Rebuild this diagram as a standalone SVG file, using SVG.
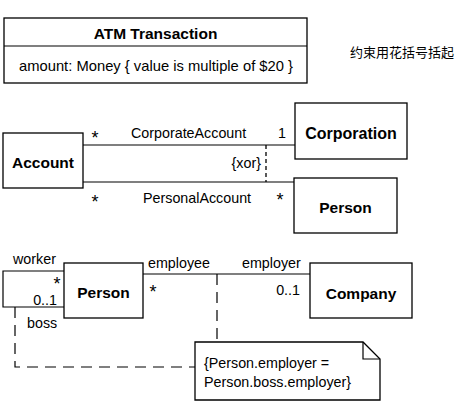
<svg xmlns="http://www.w3.org/2000/svg" width="474" height="407" viewBox="0 0 474 407">
<style>
.box{fill:#fff;stroke:#000;stroke-width:1.3}
.ln{fill:none;stroke:#000;stroke-width:1.2}
.dash{fill:none;stroke:#000;stroke-width:1.2;stroke-dasharray:11 7}
.xor{fill:none;stroke:#000;stroke-width:1.3;stroke-dasharray:4 3}
text{font-family:"Liberation Sans",Arial,sans-serif;font-size:14.3px;fill:#000}
.b{font-weight:bold;font-size:15.5px}
.c{text-anchor:middle}
.e{text-anchor:end}
.s{font-size:18px;text-anchor:middle}
.zh{font-family:"Noto Sans CJK SC",sans-serif;font-size:13px}
</style>
<rect width="474" height="407" fill="#fff"/>
<g id="atm">
<rect class="box" x="4" y="18" width="303" height="65"/>
<line class="ln" x1="4" y1="46" x2="307" y2="46"/>
<text class="b c" x="155.5" y="38.5">ATM Transaction</text>
<text class="c" x="156" y="71" textLength="274" lengthAdjust="spacingAndGlyphs">amount: Money { value is multiple of $20 }</text>
</g>
<text class="zh" x="350" y="57">约束用花括号括起</text>
<g id="connectors">
<line class="ln" x1="83" y1="145" x2="295" y2="145"/>
<line class="ln" x1="83" y1="182" x2="294" y2="182"/>
<line class="xor" x1="266" y1="145" x2="266" y2="182"/>
<polyline class="ln" points="64,271 3,271 3,307 64,307"/>
<line class="ln" x1="143" y1="274" x2="310" y2="274"/>
<line class="dash" x1="217" y1="274" x2="217" y2="342"/>
<polyline class="dash" points="15,307 15,367 195,367"/>
</g>
<g id="labels">
<text class="s" x="95" y="144">*</text>
<text x="131" y="138">CorporateAccount</text>
<text x="278" y="138">1</text>
<text class="e" x="261" y="168">{xor}</text>
<text class="s" x="95" y="208">*</text>
<text x="143" y="203">PersonalAccount</text>
<text class="s" x="280" y="206">*</text>
<text x="13" y="264">worker</text>
<text class="s" x="57" y="290">*</text>
<text class="e" x="57" y="305">0..1</text>
<text x="27" y="328">boss</text>
<text x="148" y="268">employee</text>
<text x="242" y="268">employer</text>
<text class="s" x="153" y="298">*</text>
<text class="e" x="300" y="295">0..1</text>
</g>
<g id="account">
<rect class="box" x="3" y="133" width="80" height="55"/>
<text class="b c" x="43" y="168">Account</text>
</g>
<g id="corporation">
<rect class="box" x="295" y="103" width="112" height="56"/>
<text class="b c" x="351" y="139" style="font-size:16px">Corporation</text>
</g>
<g id="person1">
<rect class="box" x="294" y="178" width="103" height="55"/>
<text class="b c" x="345.5" y="213">Person</text>
</g>
<g id="person2">
<rect class="box" x="64" y="263" width="79" height="55"/>
<text class="b c" x="103.5" y="298">Person</text>
</g>
<g id="company">
<rect class="box" x="310" y="263" width="102" height="55"/>
<text class="b c" x="361" y="299">Company</text>
</g>
<g id="note">
<path class="box" d="M195,342 H363 L380,359 V400 H195 Z"/>
<polyline class="ln" points="363,342 363,359 380,359"/>
<text x="204" y="368">{Person.employer =</text>
<text x="204" y="387">Person.boss.employer}</text>
</g>
</svg>
